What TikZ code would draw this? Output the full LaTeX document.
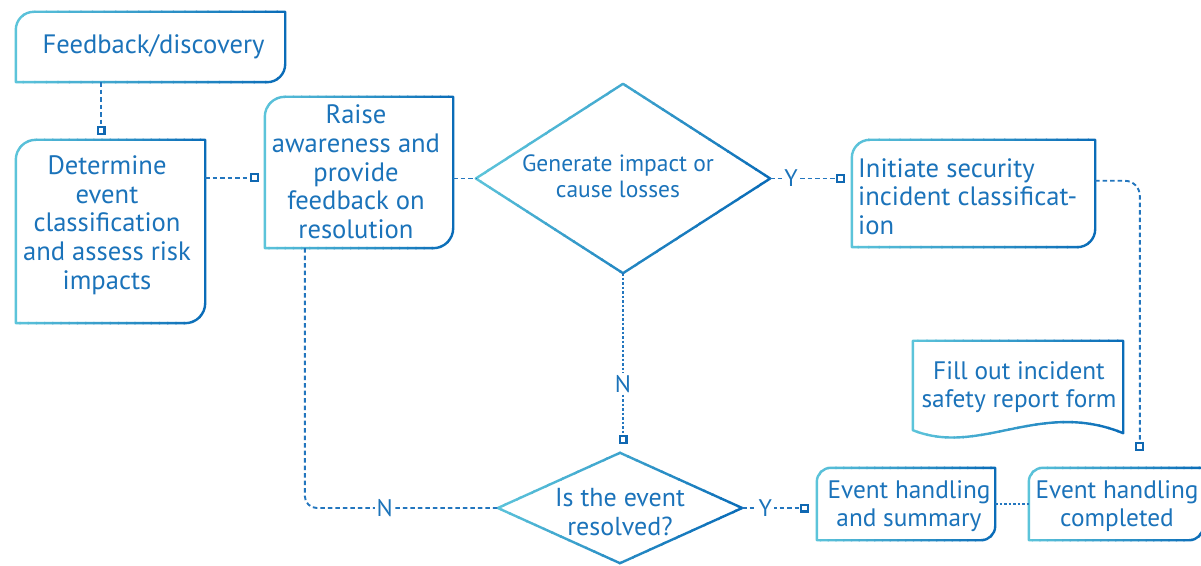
\documentclass[tikz,border=0pt]{standalone}
\usepackage{fontspec}
\setmainfont{PT Sans}
\usetikzlibrary{arrows.meta}

\definecolor{strokeLight}{RGB}{92,196,218}
\definecolor{strokeDark}{RGB}{10,108,184}
\definecolor{inkBlue}{RGB}{27,115,186}
\definecolor{linkBlue}{RGB}{35,118,190}
\definecolor{tipBlue}{RGB}{16,104,178}

% Stroke a path with a light-to-dark colour ramp: the path is drawn
% 24 times, each time clipped to one strip across the ramp direction.
% #1 start of the ramp, #2 its angle, #3 its length, #4 the path
\newcommand\gradstroke[4]{%
  \foreach \k in {0,...,23}{%
    \pgfmathtruncatemacro\pc{round(100*\k/23)}%
    \begin{scope}
      \clip[shift={#1},rotate=#2] ({#3*\k/24-0.6},-600) rectangle ({#3*(\k+1)/24+0.6},600);
      \draw[outline,draw=strokeDark!\pc!strokeLight] #4;
    \end{scope}}}

% Box with rounded top-left and bottom-right corners
\newcommand\rboxpath[2]{(#1.south west) -- ([yshift=-#2]#1.north west)
  arc[start angle=180,end angle=90,radius=#2] -- (#1.north east)
  -- ([yshift=#2]#1.south east) arc[start angle=0,end angle=-90,radius=#2] -- cycle}

\begin{document}
\begin{tikzpicture}[x=1pt,y=1pt,
  frame/.style={rectangle,inner sep=0pt,draw=none},
  outline/.style={line width=2.4pt,line join=round},
  bigtxt/.style={text=inkBlue,align=center,inner sep=0pt,font=\fontsize{26.6}{28.7}\selectfont},
  qtxt/.style={text=inkBlue,align=center,inner sep=0pt,font=\fontsize{23.5}{26}\selectfont},
  q2txt/.style={text=inkBlue,align=center,inner sep=0pt,font=\fontsize{26}{29}\selectfont},
  smalltxt/.style={text=inkBlue,align=center,inner sep=0pt,font=\fontsize{25.3}{28.5}\selectfont},
  conn/.style={draw=linkBlue,line width=1.9pt,dash pattern=on 4.5pt off 3pt},
  fineconn/.style={draw=linkBlue,line width=1.6pt,dash pattern=on 2.5pt off 2pt},
  sqend/.style={-{Square[open,length=9pt,width=9pt,line width=2.1pt,color=tipBlue]}},
  yn/.style={fill=white,inner sep=1.5pt,text=inkBlue,font=\fontsize{24}{24}\selectfont}]

\fill[white] (0,0) rectangle (1201,565);
\useasboundingbox (0,0) rectangle (1201,565);

% frames
\node[frame,minimum width=269,minimum height=70]  (fb)  at (150.5,518)  {};
\node[frame,minimum width=189,minimum height=183] (det) at (110.5,333.5) {};
\node[frame,minimum width=188,minimum height=151] (ra)  at (359,392.5)  {};
\node[frame,minimum width=294,minimum height=189] (dm1) at (623,386.5)  {};
\node[frame,minimum width=243,minimum height=107] (ic)  at (973.5,371.5) {};
\node[frame,minimum width=210,minimum height=92]  (doc) at (1018,178)   {};
\node[frame,minimum width=244,minimum height=110] (dm2) at (620,57)     {};
\node[frame,minimum width=178,minimum height=72]  (su)  at (906,61)     {};
\node[frame,minimum width=174,minimum height=72]  (cp)  at (1116,61)    {};

% outlines
\gradstroke{([xshift=-4pt]fb.west)}{0}{277}{\rboxpath{fb}{18pt}}
\gradstroke{([xshift=-4pt]det.west)}{0}{197}{\rboxpath{det}{20pt}}
\gradstroke{([xshift=-4pt]ra.west)}{0}{196}{\rboxpath{ra}{20pt}}
\gradstroke{([xshift=-4pt]ic.west)}{0}{251}{\rboxpath{ic}{18pt}}
\gradstroke{([xshift=-4pt]su.west)}{0}{186}{\rboxpath{su}{14pt}}
\gradstroke{([xshift=-4pt]cp.west)}{0}{182}{\rboxpath{cp}{14pt}}
\gradstroke{([shift={(-4.3pt,2.5pt)}]dm1.west)}{-30}{265}{(dm1.west) -- (dm1.north) -- (dm1.east) -- (dm1.south) -- cycle}
\gradstroke{([shift={(-4.3pt,2.5pt)}]dm2.west)}{-30}{221}{(dm2.west) -- (dm2.north) -- (dm2.east) -- (dm2.south) -- cycle}
\gradstroke{([xshift=-4pt]doc.west)}{0}{218}{([yshift=3pt]doc.south west) -- (doc.north west) -- (doc.north east) -- (doc.south east) .. controls (1040,166) and (980,108) .. ([yshift=3pt]doc.south west) -- cycle}

% texts
\node[bigtxt] (fbt)  at (153.5,518) {Feedback/discovery};
\node[bigtxt] (dett) at (107,340)   {Determine\\event\\classification\\and assess risk\\impacts};
\node[bigtxt] (rat)  at (356,393)   {Raise\\awareness and\\provide\\feedback on\\resolution};
\node[qtxt]   (dm1t) at (618,389)   {Generate impact or\\cause losses};
\node[bigtxt,align=left,anchor=west] (ict) at (858,368.5) {Initiate security\\incident classificat-\\ion};
\node[smalltxt] (doct) at (1019,178) {Fill out incident\\safety report form};
\node[q2txt]  (dm2t) at (620,53)    {Is the event\\resolved?};
\node[smalltxt] (sut) at (909,59)   {Event handling\\and summary};
\node[smalltxt] (cpt) at (1117,59)  {Event handling\\completed};

% connectors
\coordinate (c1) at ([xshift=-49.5pt]fb.south);
\draw[conn,sqend,shorten >=5pt] (c1) -- (c1 |- det.north);

\coordinate (c2) at ([yshift=-38pt]det.north east);
\draw[conn,sqend,shorten >=6pt] (c2) -- (c2 -| ra.west);

\draw[conn] (dm1.west -| ra.east) -- (dm1.west);

\draw[conn,sqend,shorten >=7pt] (dm1.east) -- (dm1.east -| ic.west)
  node[yn,pos=0.256] {Y};

\draw[fineconn,sqend,shorten >=9pt] (dm1.south) -- (dm1.south |- dm2.north)
  node[yn,pos=0.615] {N};

\coordinate (c3) at ([xshift=40pt]ra.south west);
\draw[conn,rounded corners=12pt] (c3) |- (dm2.west)
  node[yn,pos=0.707] {N};

\draw[conn,sqend,shorten >=8pt] (dm2.east) -- (dm2.east -| su.west)
  node[yn,pos=0.31] {Y};

\draw[fineconn] (su.east) -- (cp.west);

\coordinate (c4) at ([yshift=-41pt]ic.north east);
\coordinate (c5) at ([xshift=111pt]cp.north west);
\draw[conn,sqend,rounded corners=15pt,shorten >=17pt] (c4) -| (c5);

\end{tikzpicture}
\end{document}
